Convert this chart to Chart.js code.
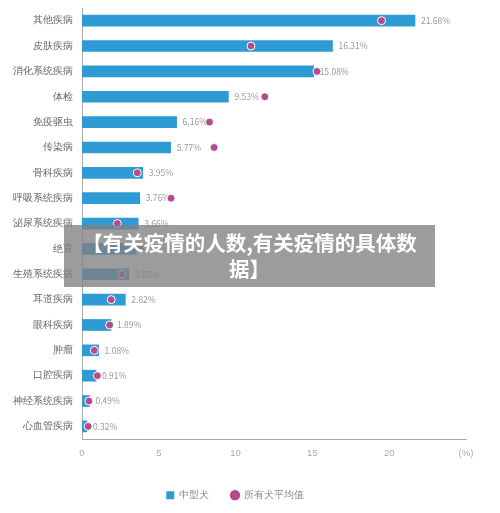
<!DOCTYPE html>
<html>
<head>
<meta charset="utf-8">
<script src="https://cdn.jsdelivr.net/npm/chart.js@4"></script>
<style>
  body { margin: 0; background: #fff; font-family: "Noto Sans CJK SC", sans-serif; overflow: hidden; }
  #wrap { position: relative; width: 500px; height: 513px; overflow: hidden; }
  #c { position: absolute; left: 0; top: -7px; }
  #banner {
    position: absolute; left: 64px; top: 225px; width: 371px; height: 62px;
    background: rgba(128,128,128,0.78); color: #fff; font-weight: bold;
    font-size: 20.5px; line-height: 26px; text-align: center; padding: 4px 14px 0; box-sizing: border-box;
  }
</style>
</head>
<body>
<div id="wrap">
  <canvas id="c" width="500" height="527"></canvas>
  <div id="banner">【有关疫情的人数,有关疫情的具体数据】</div>
</div>
<script>
const categories = ['其他疾病', '皮肤疾病', '消化系统疾病', '体检', '免疫驱虫', '传染病', '骨科疾病', '呼吸系统疾病',
  '泌尿系统疾病', '绝育', '生殖系统疾病', '耳道疾病', '眼科疾病', '肿瘤', '口腔疾病', '神经系统疾病', '心血管疾病'];
const mediumDog = [21.68, 16.31, 15.08, 9.53, 6.16, 5.77, 3.95, 3.76, 3.66, 3.53, 3.05, 2.82, 1.89, 1.08, 0.91, 0.49, 0.32];
const allDogAvg = [19.5, 11.0, 15.3, 11.9, 8.3, 8.6, 3.6, 5.8, 2.3, 3.8, 2.6, 1.9, 1.8, 0.8, 1.0, 0.45, 0.4];
const xTicks = [0, 5, 10, 15, 20, 25];

// percentage text to the right of each bar, drawn under the dots
const valueLabels = {
  id: 'valueLabels',
  beforeDatasetsDraw(chart) {
    const ctx = chart.ctx;
    const meta = chart.getDatasetMeta(1);
    ctx.save();
    ctx.font = '8.5px "Noto Sans CJK SC"';
    ctx.fillStyle = '#999';
    ctx.textBaseline = 'middle';
    meta.data.forEach((bar, i) => {
      ctx.fillText(mediumDog[i].toFixed(2) + '%', bar.x + 6, bar.y);
    });
    ctx.restore();
  }
};

new Chart(document.getElementById('c'), {
  type: 'bar',
  data: {
    labels: categories,
    datasets: [{
      type: 'line',
      label: '所有犬平均值',
      data: allDogAvg,
      showLine: false,
      pointStyle: 'circle',
      pointRadius: 4,
      pointBackgroundColor: '#b54a8c',
      pointBorderColor: '#fff',
      pointBorderWidth: 1,
      backgroundColor: '#b54a8c',
      borderColor: '#b54a8c',
      order: 0
    }, {
      label: '中型犬',
      data: mediumDog,
      backgroundColor: '#2f9bd5',
      barThickness: 11,
      pointStyle: 'rect',
      order: 1
    }]
  },
  options: {
    indexAxis: 'y',
    responsive: false,
    animation: false,
    layout: { padding: { left: 4, right: 34, top: 0, bottom: 10 } },
    scales: {
      x: {
        min: 0, max: 25,
        afterBuildTicks: axis => { axis.ticks = xTicks.map(v => ({ value: v })); },
        grid: { display: false, drawTicks: false },
        border: { color: '#aaa' },
        ticks: { color: '#aaa', font: { size: 9.5 }, padding: 9, callback: v => v === 25 ? '(%)' : v }
      },
      y: {
        grid: { display: false, drawTicks: false },
        border: { color: '#aaa' },
        ticks: { color: '#666', font: { size: 10 }, padding: 9, autoSkip: false }
      }
    },
    plugins: {
      legend: {
        position: 'bottom',
        reverse: true,
        labels: { usePointStyle: true, boxWidth: 8, boxHeight: 8, color: '#888', font: { size: 9.5 }, padding: 22 }
      },
      tooltip: { enabled: false }
    }
  },
  plugins: [valueLabels]
});
</script>
</body>
</html>
